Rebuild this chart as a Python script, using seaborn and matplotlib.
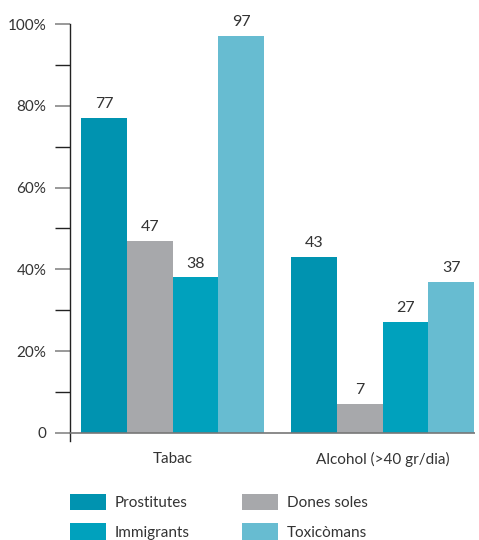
import matplotlib
matplotlib.use("Agg")
import matplotlib.pyplot as plt
import seaborn as sns
import pandas as pd
from matplotlib.ticker import FixedLocator

categories = ["Tabac", "Alcohol (>40 gr/dia)"]
groups = ["Prostitutes", "Dones soles", "Immigrants", "Toxicòmans"]
prostitutes = [77, 43]
dones_soles = [47, 7]
immigrants = [38, 27]
toxicomans = [97, 37]
palette = ["#0093b0", "#a7a8ab", "#00a1bd", "#67bcd1"]

rows = []
for g, vals in zip(groups, [prostitutes, dones_soles, immigrants, toxicomans]):
    for c, v in zip(categories, vals):
        rows.append({"cat": c, "grup": g, "valor": v})
df = pd.DataFrame(rows)

sns.set_theme(style="white")
plt.rcParams["font.family"] = ["Lato", "DejaVu Sans"]
text_color = "#333333"

fig = plt.figure(figsize=(4.79, 5.40), dpi=100)
ax = fig.add_axes([70 / 479, (540 - 441) / 540, (475 - 70) / 479, (441 - 24) / 540])

sns.barplot(data=df, x="cat", y="valor", hue="grup", hue_order=groups,
            order=categories, palette=palette, width=0.87, saturation=1,
            linewidth=0, ax=ax, legend=True)

for cont in ax.containers:
    ax.bar_label(cont, fmt="%d", padding=5, fontsize=11.5, color=text_color)

ax.set_ylim(-2, 100)
ax.set_xlim(-0.488, 1.44)
ax.set_xlabel("")
ax.set_ylabel("")

ax.yaxis.set_major_locator(FixedLocator([0, 20, 40, 60, 80, 100]))
ax.yaxis.set_minor_locator(FixedLocator([10, 30, 50, 70, 90]))
ax.set_yticklabels(["0", "20%", "40%", "60%", "80%", "100%"])
ax.tick_params(axis="y", which="major", length=11, width=1.2, color="#888888",
               labelsize=11, labelcolor=text_color, pad=6, left=True)
ax.tick_params(axis="y", which="minor", length=11, width=1.0, color="#222222", left=True)
ax.tick_params(axis="x", length=0, labelsize=11, labelcolor=text_color, pad=8)

for side in ["top", "right", "bottom"]:
    ax.spines[side].set_visible(False)
ax.spines["left"].set_color("#222222")
ax.spines["left"].set_linewidth(1.0)
ax.axhline(0, color="#777777", lw=1.2, zorder=5)

handles, labels = ax.get_legend_handles_labels()
ax.get_legend().remove()
order = [0, 2, 1, 3]
fig.legend([handles[i] for i in order], [labels[i] for i in order],
           ncol=2, loc="upper left", bbox_to_anchor=(59 / 479, 1 - 483 / 540),
           frameon=False, fontsize=11, handlelength=2.35, handleheight=1.3,
           handletextpad=0.6, columnspacing=3.4, labelspacing=0.85,
           labelcolor=text_color, borderaxespad=0.3)

fig.savefig("out.png", dpi=100)
